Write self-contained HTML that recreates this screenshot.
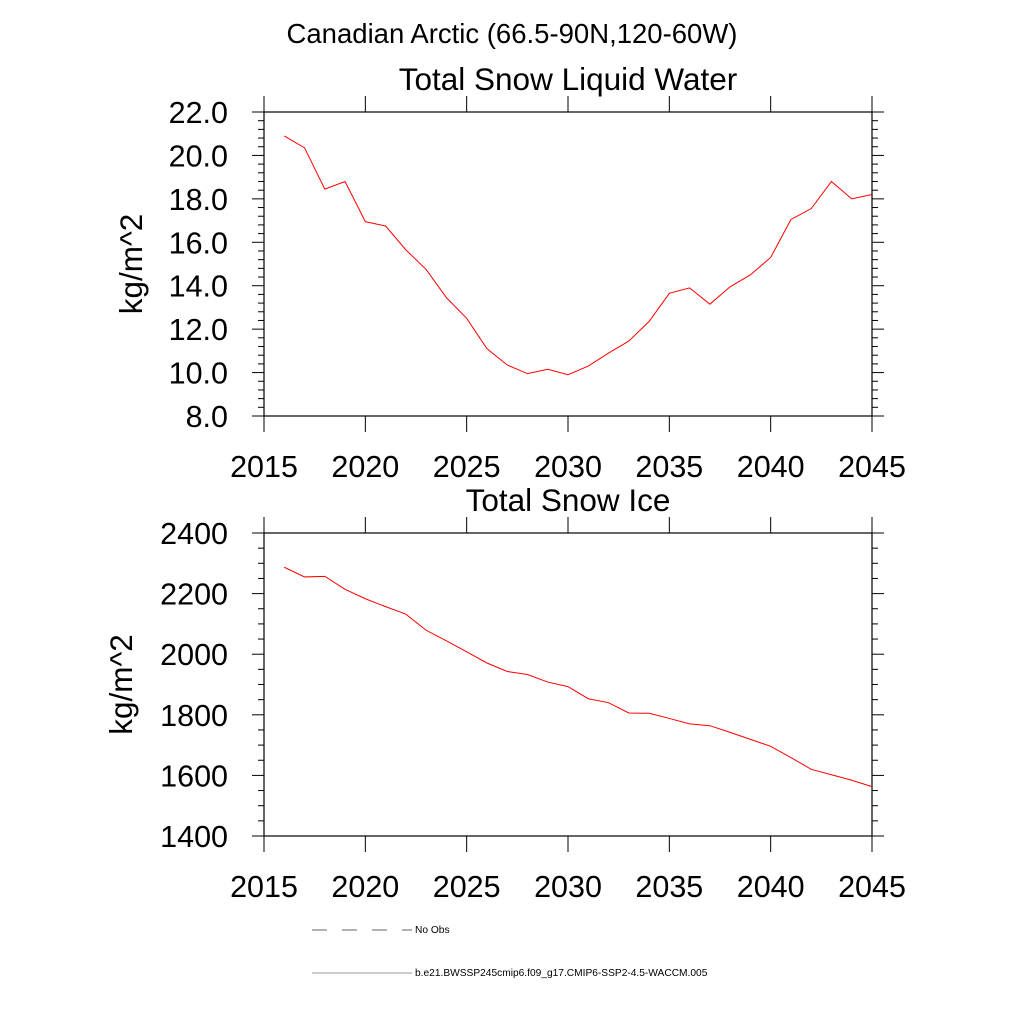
<!DOCTYPE html>
<html><head><meta charset="utf-8"><style>
body{margin:0;background:#fff}
svg text{font-family:"Liberation Sans",sans-serif;fill:#000}
</style></head><body>
<svg id="c" width="1024" height="1024" xmlns="http://www.w3.org/2000/svg">
<text x="512" y="43" font-size="27.5" text-anchor="middle">Canadian Arctic (66.5-90N,120-60W)</text>
<g stroke="#666" stroke-width="1">
<line x1="312" y1="930" x2="412" y2="930" stroke-dasharray="15,15"/>
<line x1="312" y1="973" x2="412" y2="973" stroke="#999"/>
</g>
<text x="415" y="933" font-size="10.2">No Obs</text>
<text x="415" y="976" font-size="10.2">b.e21.BWSSP245cmip6.f09_g17.CMIP6-SSP2-4.5-WACCM.005</text>
</svg>
<script>
const years=[2016,2017,2018,2019,2020,2021,2022,2023,2024,2025,2026,2027,2028,2029,2030,2031,2032,2033,2034,2035,2036,2037,2038,2039,2040,2041,2042,2043,2044,2045];
const liquidWater=[20.9,20.35,18.45,18.8,16.95,16.75,15.65,14.75,13.45,12.5,11.1,10.35,9.95,10.15,9.9,10.3,10.9,11.45,12.35,13.65,13.9,13.15,13.95,14.5,15.3,17.05,17.55,18.8,18.0,18.2];
const snowIce=[2287,2255,2257,2214,2183,2157,2132,2079,2044,2008,1971,1943,1933,1908,1893,1853,1840,1806,1805,1788,1770,1764,1742,1719,1696,1659,1620,1602,1584,1563];
const xTicks=[2015,2020,2025,2030,2035,2040,2045];
const yTicks1=[8,10,12,14,16,18,20,22];
const yTicks2=[1400,1600,1800,2000,2200,2400];
const svg=document.getElementById('c');
const NS='http://www.w3.org/2000/svg';
function mk(t,a){const e=document.createElementNS(NS,t);for(const k in a)e.setAttribute(k,a[k]);svg.appendChild(e);return e;}
function panel(p,title,vals,yt,ymin,ymax,minorStep,fmt){
  const L=264,R=872,T=p.top,B=p.bottom;
  const sx=v=>L+(v-2015)/(2045-2015)*(R-L);
  const sy=v=>B-(v-ymin)/(ymax-ymin)*(B-T);
  let f=mk('rect',{x:L,y:T,width:R-L,height:B-T,fill:'none',stroke:'#000','stroke-width':1.2});
  
  
  let tt=mk('text',{x:568,y:T-22,'font-size':31.5,'text-anchor':'middle'});tt.textContent=title;
  
  
  xTicks.forEach(v=>{const x=sx(v);
    mk('line',{x1:x,y1:T,x2:x,y2:T-16,stroke:'#000'});
    mk('line',{x1:x,y1:B,x2:x,y2:B+16,stroke:'#000'});
    let t=mk('text',{x:x,y:B+61,'font-size':30.5,'text-anchor':'middle'});t.textContent=v;
    
    
  });
  for(let v=ymin;v<=ymax+1e-9;v+=minorStep){const y=sy(v);
    const major=yt.some(m=>Math.abs(m-v)<1e-6);const len=major?12:6;
    mk('line',{x1:L,y1:y,x2:L-len,y2:y,stroke:'#000'});
    mk('line',{x1:R,y1:y,x2:R+len,y2:y,stroke:'#000'});
  }
  yt.forEach(v=>{let t=mk('text',{x:L-36,y:sy(v)+11,'font-size':30.5,'text-anchor':'end'});t.textContent=fmt(v);
    
    });
  let yl=mk('text',{x:0,y:0,'font-size':31.5,'text-anchor':'middle',transform:`translate(${p.ylx},${(T+B)/2}) rotate(-90)`});yl.textContent='kg/m^2';
  
  
  const pts=vals.map((v,i)=>sx(years[i])+','+sy(v)).join(' ');
  let pl=mk('polyline',{points:pts,fill:'none',stroke:'#f00','stroke-width':1});
  
  
}
panel({top:112,bottom:416,name:'liquid-water',ylx:142},'Total Snow Liquid Water',liquidWater,yTicks1,8,22,0.4,v=>v.toFixed(1));
panel({top:533,bottom:836,name:'snow-ice',ylx:132},'Total Snow Ice',snowIce,yTicks2,1400,2400,50,v=>String(v));
</script>
</body></html>
